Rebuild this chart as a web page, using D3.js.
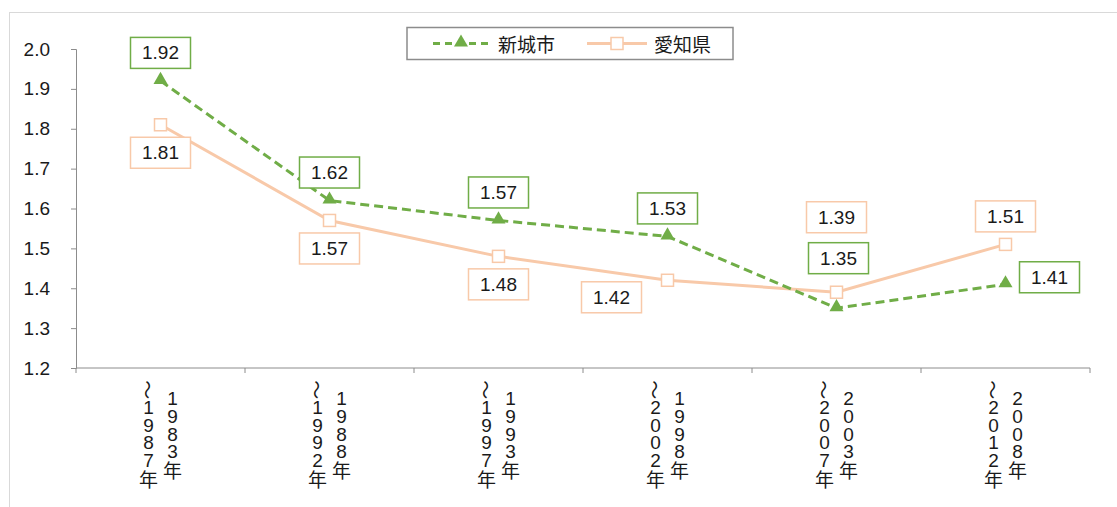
<!DOCTYPE html>
<html>
<head>
<meta charset="utf-8">
<script src="https://cdn.jsdelivr.net/npm/d3@7"></script>
<style>
  body { margin: 0; background: #fff; }
  text { font-family: "Liberation Sans", "Noto Sans CJK JP", sans-serif; }
  .jp { font-family: "Noto Sans CJK JP", sans-serif; }
</style>
</head>
<body>
<svg id="chart" width="1117" height="507"></svg>
<script>
var categories = ["1983年～1987年", "1988年～1992年", "1993年～1997年", "1998年～2002年", "2003年～2007年", "2008年～2012年"]
var shinshiro = [1.92, 1.62, 1.57, 1.53, 1.35, 1.41]
var aichi = [1.81, 1.57, 1.48, 1.42, 1.39, 1.51]
var yTicks = [1.2, 1.3, 1.4, 1.5, 1.6, 1.7, 1.8, 1.9, 2.0]
var seriesNames = ["新城市", "愛知県"]

// where each data label box sits relative to its point
var shinshiroLabelOffsets = [[0, -28], [0, -28], [0, -28], [0, -28], [2, -50], [44, -7]]
var aichiLabelOffsets = [[0, 28], [0, 28], [0, 28], [-56, 17], [0, -75], [0, -28]]

var green = "#70ad47", peach = "#f8c9a9", axisColor = "#8c8c8c"

var svg = d3.select("#chart")

// outer frame
svg.append("rect")
    .attr("x", 9.5).attr("y", 12.5)
    .attr("width", 1120).attr("height", 510)
    .attr("fill", "none").attr("stroke", "#d9d9d9")

var x = d3.scaleBand().domain(categories).range([76, 1090])
var y = d3.scaleLinear().domain([1.2, 2.0]).range([368, 49])
var cx = function(i) { return x(categories[i]) + x.bandwidth() / 2 }

// y axis
var yAxis = svg.append("g")
    .attr("transform", "translate(76,0)")
    .call(d3.axisLeft(y).tickValues(yTicks).tickSize(5).tickPadding(21).tickFormat(d3.format(".1f")))
yAxis.select(".domain").attr("stroke", axisColor)
yAxis.selectAll(".tick line").attr("stroke", axisColor)
yAxis.selectAll(".tick text").attr("font-size", 19).attr("fill", "#1a1a1a")

// x axis line + ticks at band edges
svg.append("line")
    .attr("x1", 76).attr("x2", 1090).attr("y1", y(1.2)).attr("y2", y(1.2))
    .attr("stroke", axisColor)
var edges = categories.map(function(c) { return x(c) }).concat([x.range()[1]])
svg.selectAll(".xtick")
    .data(edges).enter()
    .append("line")
        .attr("x1", function(d) { return d }).attr("x2", function(d) { return d })
        .attr("y1", y(1.2)).attr("y2", y(1.2) + 5)
        .attr("stroke", axisColor)

// vertical category labels: right column first part, left column "～..." part
var step = 17.7, midY = 434
categories.forEach(function(c, i) {
    var parts = c.split("～")
    var cols = [{chars: Array.from(parts[0]), dx: 12}, {chars: ["～"].concat(Array.from(parts[1])), dx: -12}]
    cols.forEach(function(col) {
        var top = midY - (col.chars.length - 1) * step / 2
        col.chars.forEach(function(ch, k) {
            var px = cx(i) + col.dx, py = top + k * step
            svg.append("text")
                .attr("class", /[0-9]/.test(ch) ? "" : "jp")
                .attr("x", px).attr("y", py)
                .attr("text-anchor", "middle")
                .attr("dominant-baseline", "central")
                .attr("font-size", 19)
                .attr("fill", "#1a1a1a")
                .attr("transform", ch === "～" ? "rotate(90," + px + "," + py + ")" : null)
                .text(ch)
        })
    })
})

var line = d3.line()
    .x(function(d, i) { return cx(i) })
    .y(function(d) { return y(d) })

// 愛知県 line
svg.append("path")
    .datum(aichi)
    .attr("d", line)
    .attr("fill", "none").attr("stroke", peach).attr("stroke-width", 3)

// 新城市 line
svg.append("path")
    .datum(shinshiro)
    .attr("d", line)
    .attr("fill", "none").attr("stroke", green).attr("stroke-width", 3)
    .attr("stroke-dasharray", "9,5")

var tri = d3.symbol().type(d3.symbolTriangle).size(85)

svg.selectAll(".sq")
    .data(aichi).enter()
    .append("rect")
        .attr("x", function(d, i) { return cx(i) - 6 })
        .attr("y", function(d) { return y(d) - 6 })
        .attr("width", 12).attr("height", 12)
        .attr("fill", "#fff").attr("stroke", peach).attr("stroke-width", 1.5)

svg.selectAll(".tri")
    .data(shinshiro).enter()
    .append("path")
        .attr("d", tri)
        .attr("transform", function(d, i) { return "translate(" + cx(i) + "," + (y(d) - 1) + ")" })
        .attr("fill", green)

// data labels
function drawLabels(values, offsets, color) {
    var g = svg.selectAll(null)
        .data(values).enter()
        .append("g")
            .attr("transform", function(d, i) {
                return "translate(" + (cx(i) + offsets[i][0]) + "," + (y(d) + offsets[i][1]) + ")"
            })
    g.append("rect")
        .attr("x", -30).attr("y", -15.5)
        .attr("width", 60).attr("height", 31)
        .attr("fill", "#fff").attr("stroke", color).attr("stroke-width", 1.5)
    g.append("text")
        .attr("text-anchor", "middle")
        .attr("dominant-baseline", "central")
        .attr("font-size", 19)
        .attr("fill", "#1a1a1a")
        .text(function(d) { return d3.format(".2f")(d) })
}
drawLabels(aichi, aichiLabelOffsets, peach)
drawLabels(shinshiro, shinshiroLabelOffsets, green)

// legend
var lg = svg.append("g")
lg.append("rect")
    .attr("x", 407).attr("y", 27.5).attr("width", 326).attr("height", 32)
    .attr("fill", "#fff").attr("stroke", "#8c8c8c").attr("stroke-width", 1.5)
lg.append("line")
    .attr("x1", 433).attr("x2", 489).attr("y1", 43.5).attr("y2", 43.5)
    .attr("stroke", green).attr("stroke-width", 3).attr("stroke-dasharray", "7,5")
lg.append("path").attr("d", tri).attr("transform", "translate(461,42.5)").attr("fill", green)
lg.append("text").attr("class", "jp")
    .attr("x", 498).attr("y", 43.5).attr("dominant-baseline", "central")
    .attr("font-size", 19).attr("fill", "#1a1a1a").text(seriesNames[0])
lg.append("line")
    .attr("x1", 587).attr("x2", 647).attr("y1", 43.5).attr("y2", 43.5)
    .attr("stroke", peach).attr("stroke-width", 3)
lg.append("rect")
    .attr("x", 611).attr("y", 37.5).attr("width", 12).attr("height", 12)
    .attr("fill", "#fff").attr("stroke", peach).attr("stroke-width", 1.5)
lg.append("text").attr("class", "jp")
    .attr("x", 654).attr("y", 43.5).attr("dominant-baseline", "central")
    .attr("font-size", 19).attr("fill", "#1a1a1a").text(seriesNames[1])
</script>
</body>
</html>
